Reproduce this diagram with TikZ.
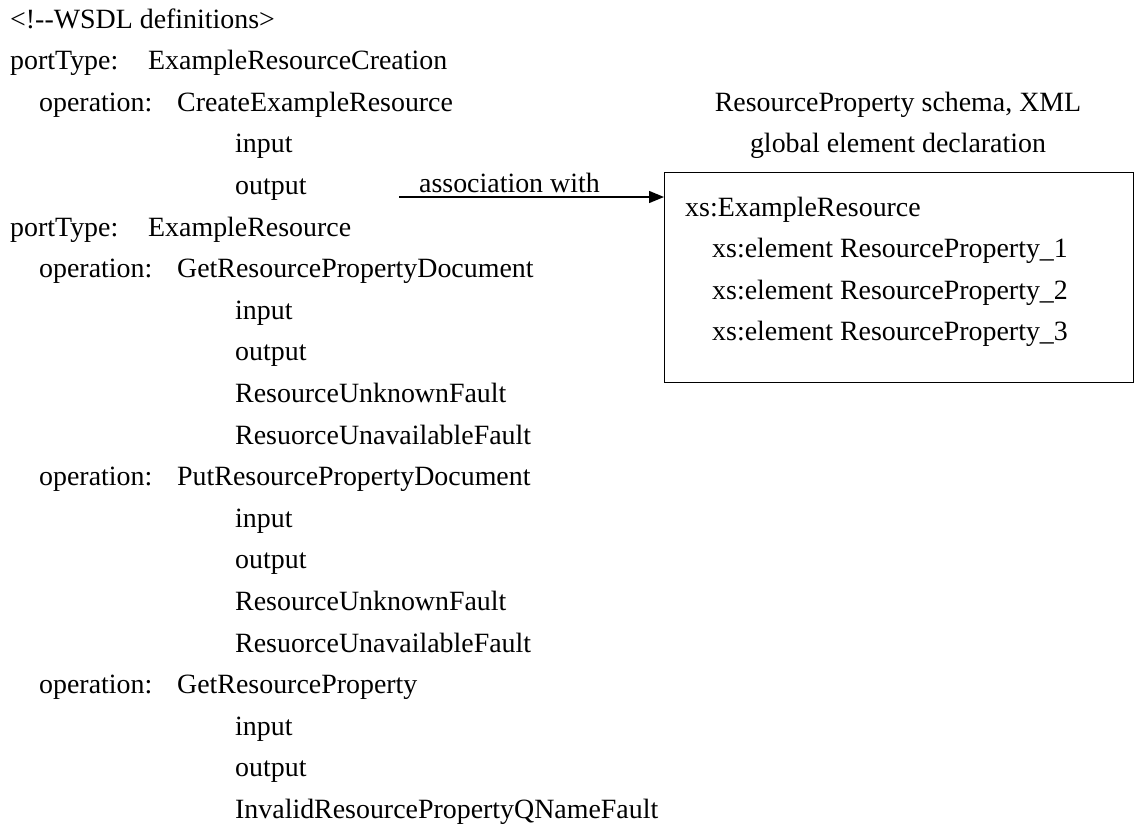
\documentclass[tikz,border=0pt]{standalone}
\usepackage{fontspec}
\setmainfont{Liberation Serif}[Ligatures=NoCommon]
\usetikzlibrary{arrows.meta}

\tikzset{
  txt/.style={anchor=base west, inner sep=0pt, font=\fontsize{27.9}{33}\selectfont},
  head/.style={anchor=base, inner sep=0pt, font=\fontsize{27.9}{33}\selectfont},
  schemabox/.style={draw, line width=1.4pt, anchor=north west, inner sep=0pt,
    minimum width=469pt, minimum height=210pt},
  assoc/.style={line width=1.4pt, -{Triangle[length=15pt,width=12pt]}}
}

\begin{document}
\begin{tikzpicture}[x=1pt, y=-1pt]
\useasboundingbox (0,0) rectangle (1135,825);

% WSDL listing, one line per row
\node[txt] (defs)   at (10,28)    {<!-{}-WSDL definitions>};
\node[txt] (pt1)    at (10,69.6)  {portType:};
\node[txt] (pt1n)   at (148,69.6) {ExampleResourceCreation};
\node[txt] (op1)    at (39,111.2) {operation:};
\node[txt] (op1n)   at (177,111.2){CreateExampleResource};
\node[txt] (op1in)  at (235,152.8){input};
\node[txt] (op1out) at (235,194.4){output};
\node[txt] (pt2)    at (10,236)   {portType:};
\node[txt] (pt2n)   at (148,236)  {ExampleResource};
\node[txt] (op2)    at (39,277.6) {operation:};
\node[txt] (op2n)   at (177,277.6){GetResourcePropertyDocument};
\node[txt] (op2in)  at (235,319.2){input};
\node[txt] (op2out) at (235,360.8){output};
\node[txt] (op2f1)  at (235,402.4){ResourceUnknownFault};
\node[txt] (op2f2)  at (235,444)  {ResuorceUnavailableFault};
\node[txt] (op3)    at (39,485.6) {operation:};
\node[txt] (op3n)   at (177,485.6){PutResourcePropertyDocument};
\node[txt] (op3in)  at (235,527.2){input};
\node[txt] (op3out) at (235,568.8){output};
\node[txt] (op3f1)  at (235,610.4){ResourceUnknownFault};
\node[txt] (op3f2)  at (235,652)  {ResuorceUnavailableFault};
\node[txt] (op4)    at (39,693.6) {operation:};
\node[txt] (op4n)   at (177,693.6){GetResourceProperty};
\node[txt] (op4in)  at (235,735.2){input};
\node[txt] (op4out) at (235,776.8){output};
\node[txt] (op4f1)  at (235,818.4){InvalidResourcePropertyQNameFault};

% schema heading and box
\node[head] (sh1) at (898,111.2) {ResourceProperty schema, XML};
\node[head] (sh2) at (898,152.8) {global element declaration};
\node[schemabox] (box) at (664,172) {};
\node[txt] (xs0) at (685,216)   {xs:ExampleResource};
\node[txt] (xs1) at (712,257.6) {xs:element ResourceProperty\_1};
\node[txt] (xs2) at (712,299.2) {xs:element ResourceProperty\_2};
\node[txt] (xs3) at (712,340.8) {xs:element ResourceProperty\_3};

% association arrow from the output message to the schema box
\coordinate (astart) at (399,197);
\draw[assoc] (astart) -- (box.west |- astart);
\node[txt] (alabel) at (419,192) {association with};
\end{tikzpicture}
\end{document}
